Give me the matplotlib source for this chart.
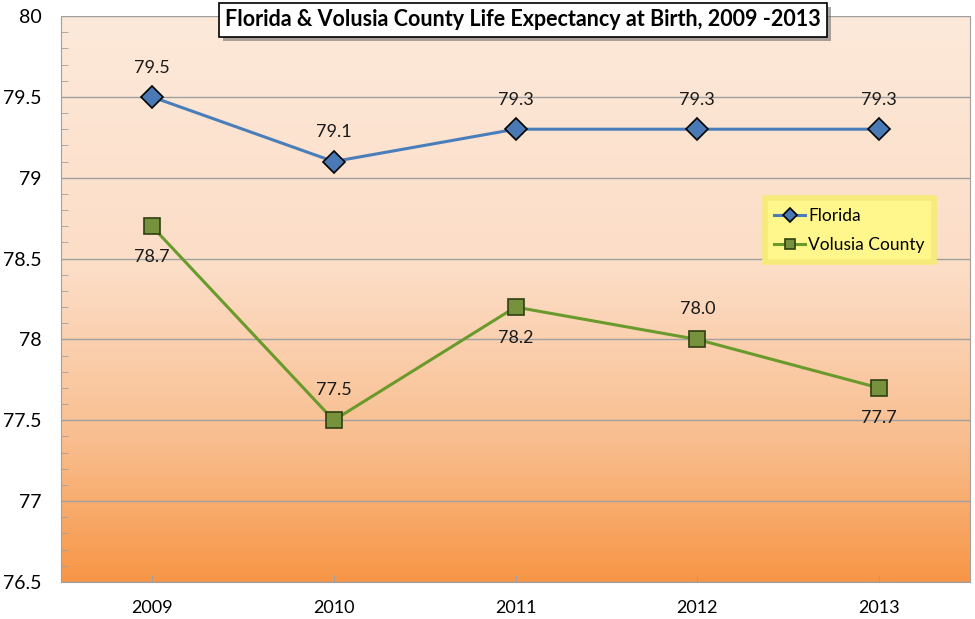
import numpy as np
import matplotlib
matplotlib.use("Agg")
import matplotlib.pyplot as plt
import matplotlib.patheffects as pe
from matplotlib.colors import LinearSegmentedColormap
from matplotlib.ticker import MultipleLocator, FuncFormatter

plt.rcParams['font.family'] = ['Lato', 'DejaVu Sans']

years = ['2009', '2010', '2011', '2012', '2013']
florida = [79.5, 79.1, 79.3, 79.3, 79.3]
volusia = [78.7, 77.5, 78.2, 78.0, 77.7]
# label above (+) or below (-) the Volusia points
volusia_side = [-1, 1, -1, 1, -1]

fig = plt.figure(figsize=(9.75, 6.19), dpi=100)
ax = fig.add_axes([61 / 975, 1 - 582 / 619, 909 / 975, 566 / 619])

x = np.arange(len(years))

# background gradient, light peach on top, orange at the bottom
cmap = LinearSegmentedColormap.from_list(
    'bg', [(0.0, '#FDE9DA'), (0.45, '#FCDDC6'), (0.75, '#F9BE8F'), (1.0, '#F79646')])
grad = np.linspace(0, 1, 256).reshape(-1, 1)
ax.imshow(grad, cmap=cmap, aspect='auto', extent=[0, 1, 0, 1],
          transform=ax.transAxes, zorder=0)

ax.set_xlim(-0.5, 4.5)
ax.set_ylim(76.5, 80)
ax.yaxis.set_major_locator(MultipleLocator(0.5))
ax.yaxis.set_minor_locator(MultipleLocator(0.1))
ax.yaxis.set_major_formatter(FuncFormatter(lambda v, p: f'{v:g}'))
ax.grid(axis='y', which='major', color='#A0A0A0', linewidth=1, zorder=1)
ax.set_axisbelow(True)

ax.plot(x, florida, color='#4A7EBB', linewidth=2.2, marker='D', markersize=11,
        markerfacecolor='#4A7AB5', markeredgecolor='black', markeredgewidth=1.2,
        label='Florida', zorder=3)
ax.plot(x, volusia, color='#6A9A2C', linewidth=2.2, marker='s', markersize=11,
        markerfacecolor='#76923C', markeredgecolor='#2F3F10', markeredgewidth=1.2,
        label='Volusia County', zorder=3)

for i, v in enumerate(florida):
    ax.annotate(f'{v:.1f}', (x[i], v), xytext=(0, 21), textcoords='offset points',
                ha='center', va='center', fontsize=13, color='#1A1A1A')
for i, v in enumerate(volusia):
    ax.annotate(f'{v:.1f}', (x[i], v), xytext=(0, 22 * volusia_side[i]),
                textcoords='offset points', ha='center', va='center',
                fontsize=13, color='#1A1A1A')

ax.set_xticks(x)
ax.set_xticklabels(years)
ax.tick_params(axis='x', which='major', direction='in', length=5, color='#A0A0A0',
               labelsize=13, pad=13)
ax.tick_params(axis='y', which='major', length=0, labelsize=14, pad=14)
ax.tick_params(axis='y', which='minor', direction='in', length=5, color='#A0A0A0')
for side in ['left', 'right', 'bottom']:
    ax.spines[side].set_color('#A0A0A0')
ax.spines['top'].set_visible(False)

# title box with drop shadow
title = 'Florida & Volusia County Life Expectancy at Birth, 2009 -2013'
t = fig.text(523 / 975, 1 - 20 / 619, title, ha='center', va='center',
             fontsize=15.5, fontweight='bold', color='black',
             bbox=dict(boxstyle='square,pad=0.3', facecolor='white', edgecolor='black',
                       linewidth=1.2))
t.get_bbox_patch().set_path_effects([
    pe.withSimplePatchShadow(offset=(3, -3), shadow_rgbFace='#707070', alpha=0.6)])

leg = ax.legend(loc='upper left', bbox_to_anchor=(0.774, 0.678), borderaxespad=0,
                fontsize=12.5, frameon=True, fancybox=False, handlelength=1.8,
                handletextpad=0.15, borderpad=0.55, labelspacing=0.75, markerscale=0.65)
leg.get_frame().set_facecolor('#FFF78C')
leg.get_frame().set_edgecolor('#F6EA7A')
leg.get_frame().set_linewidth(4)
leg.get_frame().set_alpha(1)

fig.savefig('out.png', dpi=100)
